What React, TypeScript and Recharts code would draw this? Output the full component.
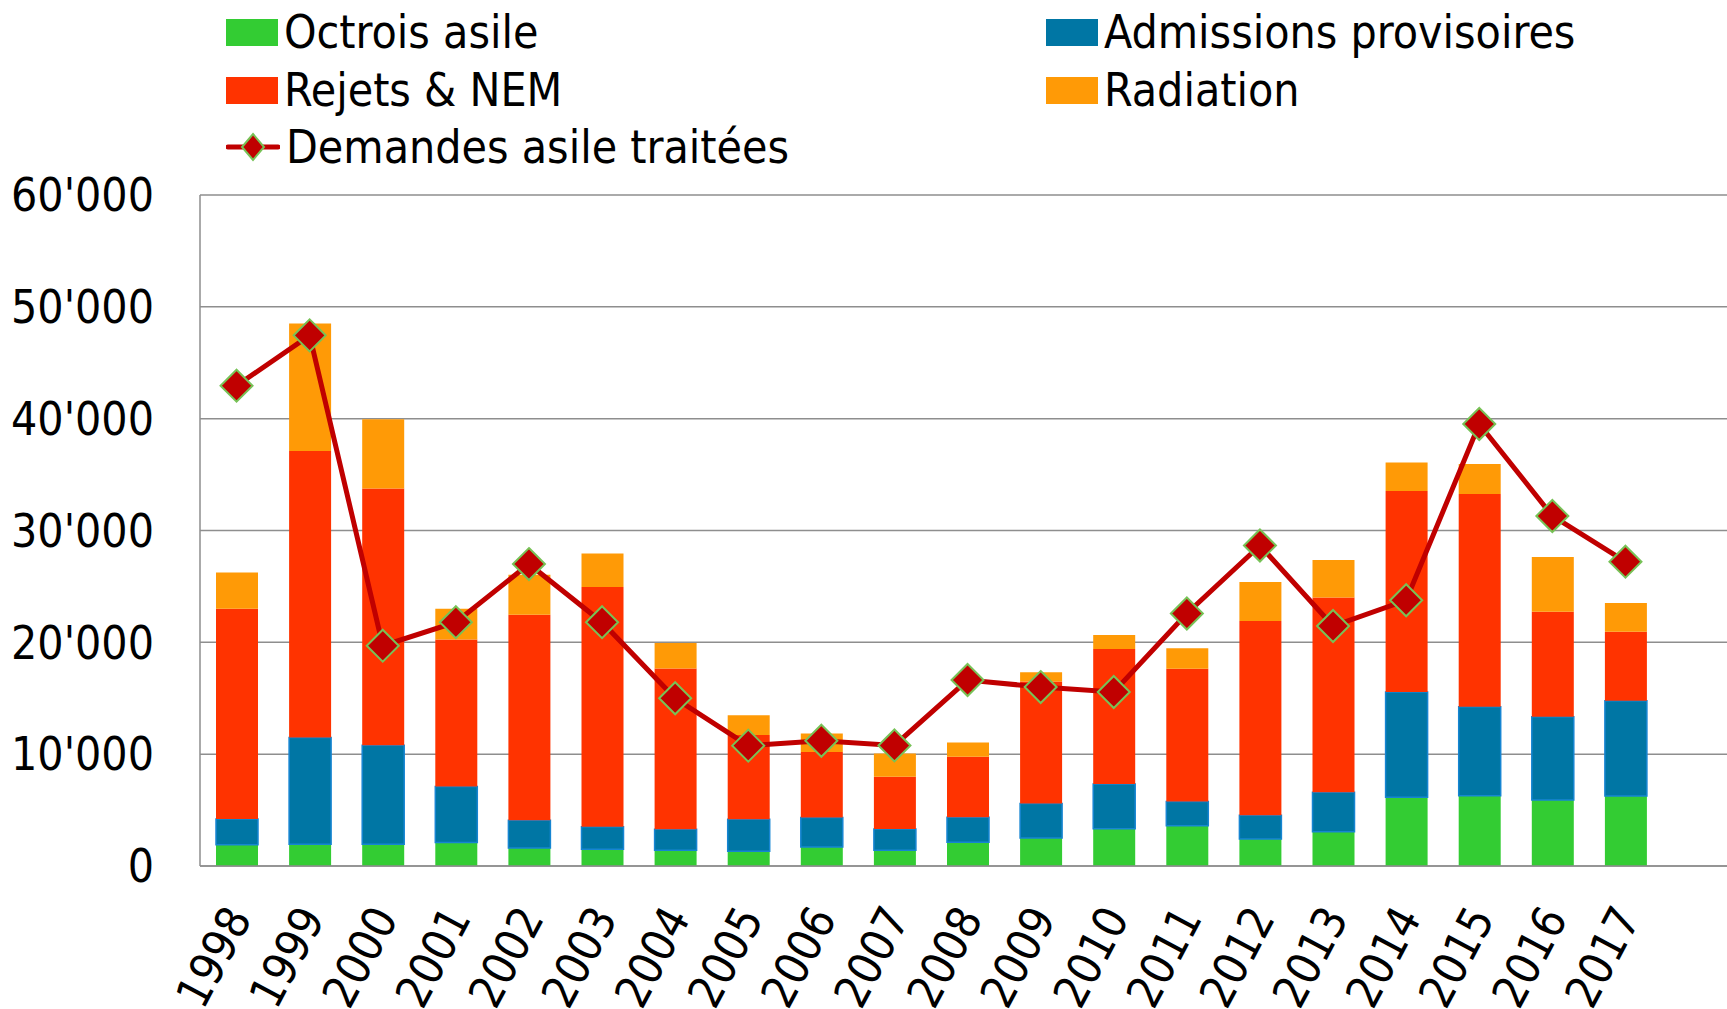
import { Bar, CartesianGrid, ComposedChart, Legend, Line, XAxis, YAxis } from "recharts";

const years = [
    "1998", "1999", "2000", "2001", "2002", "2003", "2004", "2005", "2006", "2007",
    "2008", "2009", "2010", "2011", "2012", "2013", "2014", "2015", "2016", "2017",
];
const octrois = [1900, 1950, 1950, 2100, 1600, 1500, 1400, 1330, 1700, 1400, 2120, 2500, 3340, 3610, 2420, 3070, 6140, 6290, 5900, 6260];
const admissions = [2300, 9550, 8850, 5000, 2500, 2000, 1880, 2860, 2630, 1910, 2240, 3080, 4000, 2150, 2120, 3520, 9420, 7960, 7450, 8520];
const rejets = [18800, 25600, 22950, 13150, 18370, 21450, 14370, 7530, 5870, 4660, 5400, 10920, 12060, 11880, 17370, 17410, 17970, 19010, 9390, 6170];
const radiation = [3250, 11400, 6200, 2750, 3580, 3000, 2300, 1760, 1650, 2090, 1280, 830, 1260, 1820, 3490, 3360, 2540, 2690, 4890, 2570];
const demandes = [42950, 47450, 19700, 21800, 27000, 21800, 15000, 10760, 11200, 10780, 16630, 16000, 15560, 22580, 28660, 21460, 23760, 39520, 31300, 27210];
const yTicks = [0, 10000, 20000, 30000, 40000, 50000, 60000];

const data = years.map((year, i) => ({
    year,
    octrois: octrois[i],
    admissions: admissions[i],
    rejets: rejets[i],
    radiation: radiation[i],
    demandes: demandes[i],
}));

const FONT = "'DejaVu Sans Condensed', 'DejaVu Sans', sans-serif";
const LINE_RED = "#c00000";
const DOT_GREEN = "#77c257";

const formatTick = (v: number) => (v === 0 ? "0" : `${v / 1000}'000`);

const Diamond = (props: any) => {
    const { cx, cy } = props;
    if (cx == null || cy == null) return null;
    const r = 16;
    return (
        <path
            d={`M${cx},${cy - r} L${cx + r},${cy} L${cx},${cy + r} L${cx - r},${cy} Z`}
            fill={LINE_RED}
            stroke={DOT_GREEN}
            strokeWidth={2}
        />
    );
};

const YearTick = (props: any) => {
    const { x, y, payload } = props;
    const ax = x + 16;
    const ay = y + 44;
    return (
        <text
            x={ax}
            y={ay}
            transform={`rotate(-62 ${ax} ${ay})`}
            textAnchor="end"
            fontFamily={FONT}
            fontStretch="condensed"
            fontSize={46}
            fill="#000"
        >
            {payload.value}
        </text>
    );
};

const legendItems = [
    { label: "Octrois asile", color: "#33cc33", left: 226, top: 32, kind: "box" },
    { label: "Rejets & NEM", color: "#ff3300", left: 226, top: 90, kind: "box" },
    { label: "Demandes asile traitées", color: LINE_RED, left: 226, top: 147, kind: "line" },
    { label: "Admissions provisoires", color: "#0076a4", left: 1046, top: 32, kind: "box" },
    { label: "Radiation", color: "#ff9a06", left: 1046, top: 90, kind: "box" },
];

const renderLegend = () => (
    <div style={{ position: "relative", width: 1727, height: 180 }}>
        {legendItems.map((item) => (
            <div
                key={item.label}
                style={{
                    position: "absolute",
                    left: item.left,
                    top: item.top - 30,
                    height: 60,
                    display: "flex",
                    alignItems: "center",
                    fontFamily: FONT,
                    fontStretch: "condensed",
                    fontSize: 46,
                    color: "#000",
                    whiteSpace: "nowrap",
                }}
            >
                {item.kind === "box" ? (
                    <span style={{ display: "inline-block", width: 52, height: 27, background: item.color }} />
                ) : (
                    <svg width={54} height={30}>
                        <line x1={2} y1={15} x2={52} y2={15} stroke={item.color} strokeWidth={5} strokeLinecap="round" />
                        <path d="M27,2 L38,15 L27,28 L16,15 Z" fill={item.color} stroke={DOT_GREEN} strokeWidth={2} />
                    </svg>
                )}
                <span style={{ marginLeft: 6 }}>{item.label}</span>
            </div>
        ))}
    </div>
);

export default function App() {
    return (
        <div style={{ position: "absolute", left: 0, top: 0, background: "#fff" }}>
            <ComposedChart
                width={1727}
                height={1009}
                data={data}
                margin={{ top: 195, right: 0, left: 0, bottom: 0 }}
            >
                <CartesianGrid vertical={false} stroke="#8e8e8e" strokeWidth={1.5} />
                <XAxis
                    dataKey="year"
                    height={143}
                    interval={0}
                    tick={<YearTick />}
                    tickLine={false}
                    axisLine={{ stroke: "#8e8e8e", strokeWidth: 1.5 }}
                    padding={{ left: 0, right: 65 }}
                />
                <YAxis
                    width={200}
                    domain={[0, 60000]}
                    ticks={yTicks}
                    tickFormatter={formatTick}
                    tickLine={false}
                    tickSize={0}
                    tickMargin={46}
                    axisLine={{ stroke: "#8e8e8e", strokeWidth: 1.5 }}
                    tick={{ fontFamily: FONT, fontStretch: "condensed", fontSize: 46, fill: "#000" } as any}
                />
                <Legend verticalAlign="middle" content={renderLegend} wrapperStyle={{ top: 0, left: 0, width: 1727 }} />
                <Bar dataKey="octrois" stackId="a" fill="#33cc33" barSize={42} isAnimationActive={false} />
                <Bar dataKey="admissions" stackId="a" fill="#0076a4" stroke="#1685d2" strokeWidth={1.5} barSize={42} isAnimationActive={false} />
                <Bar dataKey="rejets" stackId="a" fill="#ff3300" barSize={42} isAnimationActive={false} />
                <Bar dataKey="radiation" stackId="a" fill="#ff9a06" barSize={42} isAnimationActive={false} />
                <Line
                    dataKey="demandes"
                    stroke={LINE_RED}
                    strokeWidth={5}
                    dot={<Diamond />}
                    activeDot={false}
                    isAnimationActive={false}
                />
            </ComposedChart>
        </div>
    );
}
